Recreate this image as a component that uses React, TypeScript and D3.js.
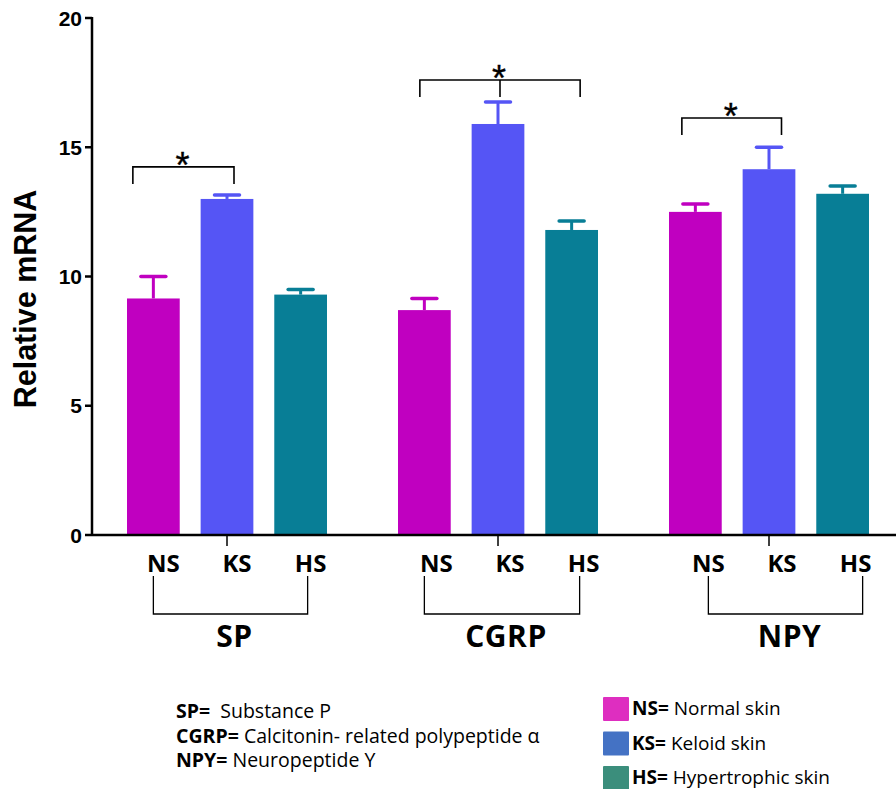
import React from "react";
import * as d3 from "d3";

const groups = ["SP", "CGRP", "NPY"];
const subgroups = ["NS", "KS", "HS"];
const means = [
  [9.15, 13.0, 9.3],
  [8.7, 15.9, 11.8],
  [12.5, 14.15, 13.2],
];
const errors = [
  [0.85, 0.15, 0.2],
  [0.45, 0.85, 0.35],
  [0.3, 0.85, 0.3],
];
const barColors = ["#C000C0", "#5555F5", "#087E96"];
const legendColors = ["#DE2EC0", "#4472C4", "#3B8E7C"];
const yTicks = [0, 5, 10, 15, 20];
const sigPairs = [
  { g: 0, from: 0, to: 1, mid: false },
  { g: 1, from: 0, to: 2, mid: true },
  { g: 2, from: 0, to: 1, mid: false },
];
const sigLevels = [14.24, 17.6, 16.13];
const sigStars = ["*", "*", "*"];
const notes = [
  ["SP=", "  Substance P"],
  ["CGRP=", " Calcitonin- related polypeptide \u03B1"],
  ["NPY=", " Neuropeptide Y"],
];
const legendItems = [
  ["NS=", " Normal skin"],
  ["KS=", " Keloid skin"],
  ["HS=", " Hypertrophic skin"],
];

export default function App() {
  const W = 896, H = 789;
  const y = d3.scaleLinear().domain([0, 20]).range([535, 18]);
  const xg = d3.scaleBand().domain(groups).range([91.5, 904.5]).padding(0);
  const xs = d3.scaleBand().domain(subgroups).range([35.5, 235.5]).paddingInner(0.284).paddingOuter(0);
  const cx = (g: number, s: number) => (xg(groups[g]) as number) + (xs(subgroups[s]) as number) + xs.bandwidth() / 2;
  const axisX = 92;
  const sans = "Liberation Sans, Arial, sans-serif";
  const os = "Open Sans, Noto Sans, sans-serif";
  // layout offsets (px) of labels / brackets relative to bar centres
  const labelShift = [10, 12, 13];
  const groupBracket = [[0, 7], [0, 8], [13, 20]];
  const sigOffsets = [[-20.5, 7], [-4.5, 8.5], [-13.5, 12.5]];

  return (
    <svg width={W} height={H} style={{ position: "absolute", left: 0, top: 0, background: "#fff" }}>
      {/* bars */}
      {groups.map((g, gi) =>
        subgroups.map((s, si) => {
          const x0 = (xg(g) as number) + (xs(s) as number);
          const v = means[gi][si];
          const e = errors[gi][si];
          const c = cx(gi, si);
          return (
            <g key={g + s}>
              <line x1={c} x2={c} y1={y(v)} y2={y(v + e)} stroke={barColors[si]} strokeWidth={3} />
              <line x1={c - 12.5} x2={c + 12.5} y1={y(v + e)} y2={y(v + e)} stroke={barColors[si]} strokeWidth={3.5} strokeLinecap="round" />
              <rect x={x0} y={y(v)} width={xs.bandwidth()} height={y(0) - y(v)} fill={barColors[si]} />
            </g>
          );
        })
      )}
      {/* y axis */}
      <line x1={axisX} x2={axisX} y1={y(20) - 1} y2={y(0) + 1} stroke="#000" strokeWidth={2.5} />
      {yTicks.map((t) => (
        <g key={t}>
          <line x1={axisX - 7} x2={axisX} y1={y(t)} y2={y(t)} stroke="#000" strokeWidth={2.5} />
          <text x={axisX - 10} y={y(t)} dy="0.36em" textAnchor="end" fontFamily={sans} fontWeight="bold" fontSize={21}>
            {t}
          </text>
        </g>
      ))}
      <text transform={`translate(36,299) rotate(-90)`} textAnchor="middle" fontFamily={sans} fontWeight="bold" fontSize={30.5}>
        Relative mRNA
      </text>
      {/* x axis */}
      <line x1={axisX} x2={W} y1={y(0)} y2={y(0)} stroke="#000" strokeWidth={2.5} />
      {groups.map((g, gi) => (
        <line key={g} x1={cx(gi, 1)} x2={cx(gi, 1)} y1={y(0)} y2={y(0) + 11} stroke="#000" strokeWidth={1.5} />
      ))}
      {/* sub labels and group brackets */}
      {groups.map((g, gi) => {
        const l = cx(gi, 0) + groupBracket[gi][0], r = cx(gi, 2) + groupBracket[gi][1];
        return (
          <g key={g}>
            {subgroups.map((s, si) => (
              <text key={s} x={cx(gi, si) + labelShift[gi]} y={572} textAnchor="middle" fontFamily={os} fontWeight="bold" fontSize={24} letterSpacing={0}>
                {s}
              </text>
            ))}
            <path d={`M${l},576 V614 H${r} V576`} fill="none" stroke="#000" strokeWidth={1.3} />
            <text x={(l + r) / 2 + 4} y={647} textAnchor="middle" fontFamily={os} fontWeight="bold" fontSize={30} letterSpacing={0.5}>
              {g}
            </text>
          </g>
        );
      })}
      {/* significance brackets */}
      {sigPairs.map((p, i) => {
        const l = cx(p.g, p.from) + sigOffsets[i][0], r = cx(p.g, p.to) + sigOffsets[i][1];
        const top = y(sigLevels[i]);
        const mid = (l + r) / 2;
        return (
          <g key={i}>
            <path d={`M${l},${top + 17} V${top} H${r} V${top + 17}`} fill="none" stroke="#000" strokeWidth={1.6} />
            {p.mid && <line x1={mid} x2={mid} y1={top} y2={top + 17} stroke="#000" strokeWidth={1.6} />}
            <text x={mid - 1} y={top + 11} textAnchor="middle" fontFamily={sans} fontSize={36} stroke="#000" strokeWidth={0.4}>
              {sigStars[i]}
            </text>
          </g>
        );
      })}
      {/* notes */}
      {notes.map((n, i) => (
        <text key={i} x={176} y={718 + i * 24.5} fontFamily={os} fontSize={19.5} style={{ whiteSpace: "pre" }}>
          <tspan fontWeight="bold">{n[0]}</tspan>
          <tspan>{n[1]}</tspan>
        </text>
      ))}
      {/* legend */}
      {legendItems.map((n, i) => (
        <g key={i}>
          <rect x={603} y={697 + i * 34.5} width={26} height={24} fill={legendColors[i]} rx={1} />
          <text x={632} y={715 + i * 34.5} fontFamily={os} fontSize={19}>
            <tspan fontWeight="bold">{n[0]}</tspan>
            <tspan>{n[1]}</tspan>
          </text>
        </g>
      ))}
    </svg>
  );
}
